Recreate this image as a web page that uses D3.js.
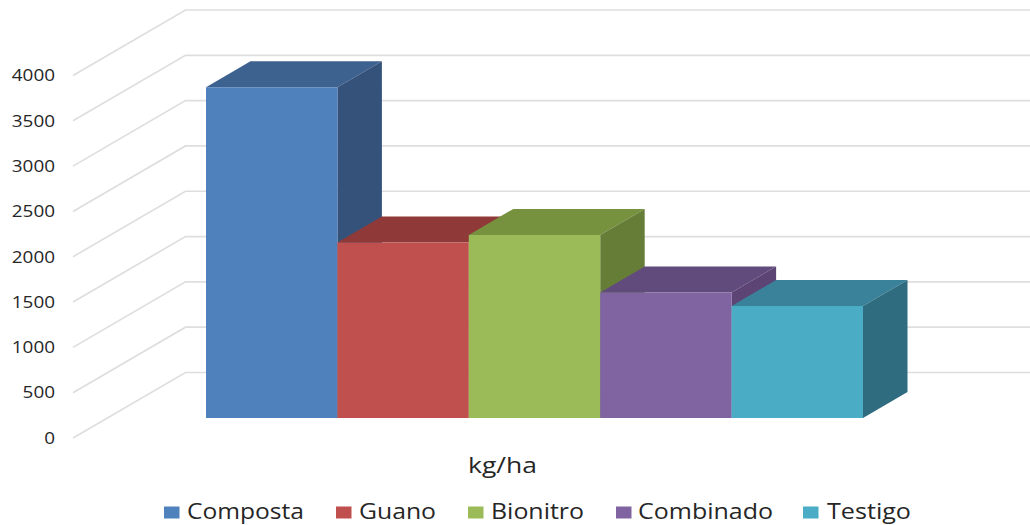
<!DOCTYPE html>
<html><head><meta charset="utf-8">
<script src="https://cdn.jsdelivr.net/npm/d3@7/dist/d3.min.js"></script>
<style>html,body{margin:0;padding:0;background:#fff}svg{display:block}
text{font-family:"Open Sans","DejaVu Sans",sans-serif;fill:#262626}</style>
</head><body><svg id="c" width="1030" height="525"></svg>
<script>
const categories = ["Composta","Guano","Bionitro","Combinado","Testigo"];
const values = [3650,1937,2020,1385,1236];
const tickValues = [0,500,1000,1500,2000,2500,3000,3500,4000];
const frontColors = ["#4f81bd","#c0504d","#9bbb59","#8064a2","#4bacc6"];
const topColors = ["#3e6290","#8f3a38","#77923f","#614b7c","#39829a"];
const sideColors = ["#34527a","#7d3231","#667d37","#5c4475","#2f6c7f"];
const axisTitle = "kg/ha";

const svg = d3.select("#c");
const fx = 73, bx = 185.5;
const yWallFront = d3.scaleLinear().domain([0,4000]).range([438,75.5]);
const yWallBack = d3.scaleLinear().domain([0,4000]).range([372.5,10]);
const yBar = d3.scaleLinear().domain([0,4000]).range([418,55.5]);
const x = d3.scaleBand().domain(categories).range([206,863]);
const depthX = 44.5, depthY = -26;

const grid = d3.line();
svg.append("g").selectAll("path").data(tickValues).join("path")
  .attr("d", v => grid([[fx,yWallFront(v)],[bx,yWallBack(v)],[1030,yWallBack(v)]]))
  .attr("fill","none").attr("stroke","#dedede").attr("stroke-width",1.7);

const axis = d3.axisLeft(yWallFront).tickValues(tickValues).tickSize(0).tickPadding(0).tickFormat(d3.format("d"));
const ag = svg.append("g").attr("transform","translate(55,0)").call(axis);
ag.select(".domain").remove();
ag.selectAll("text").attr("font-size",15.5).attr("dy","0.34em")
  .attr("textLength",function(){return this.textContent.length*10.8;})
  .attr("lengthAdjust","spacingAndGlyphs");

const bars = svg.append("g").selectAll("g").data(categories).join("g");
const poly = pts => "M"+pts.join("L")+"Z";
bars.each(function(c,i){
  const g = d3.select(this), x0=x(c), x1=x0+x.bandwidth(), y0=yBar(values[i]), yb=yBar(0);
  g.append("path").attr("d",poly([[x0,y0],[x1,y0],[x1+depthX,y0+depthY],[x0+depthX,y0+depthY]])).attr("fill",topColors[i]);
  g.append("path").attr("d",poly([[x1,y0],[x1+depthX,y0+depthY],[x1+depthX,yb+depthY],[x1,yb]])).attr("fill",sideColors[i]);
  g.append("path").attr("d",poly([[x0,y0],[x1,y0],[x1,yb],[x0,yb]])).attr("fill",frontColors[i]);
});

svg.append("text").attr("x",468).attr("y",473)
  .attr("font-size",21).attr("textLength",69).attr("lengthAdjust","spacingAndGlyphs").text(axisTitle);

const legendSwatchX = [164,336,468,616,803];
const legendTextX = [187,359,491,638,827];
const legendTextW = [117,77,93,135,84];
const lg = svg.append("g").selectAll("g").data(categories).join("g");
lg.append("rect").attr("x",(d,i)=>legendSwatchX[i]).attr("y",506.5).attr("width",15.5).attr("height",12).attr("fill",(d,i)=>frontColors[i]);
lg.append("text").attr("x",(d,i)=>legendTextX[i]).attr("y",519).attr("font-size",21)
  .attr("textLength",(d,i)=>legendTextW[i]).attr("lengthAdjust","spacingAndGlyphs").text(d=>d);
</script></body></html>
